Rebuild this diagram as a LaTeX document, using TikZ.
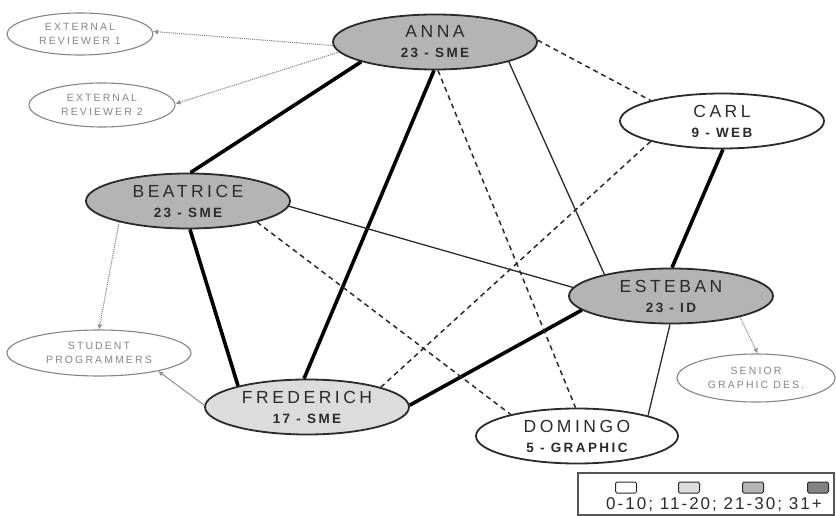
\documentclass[tikz,border=0pt]{standalone}
\usepackage{fontspec}
\setmainfont{Liberation Sans}
\newfontfamily\namefont[LetterSpace=20]{Liberation Sans}
\newfontfamily\rolefont[LetterSpace=18]{Liberation Sans}
\newfontfamily\helperfont[LetterSpace=20]{Liberation Sans}
\newfontfamily\keyfont[LetterSpace=12]{Liberation Sans}
\usetikzlibrary{shapes.geometric,arrows.meta}

\definecolor{lvlA}{HTML}{FFFFFF}
\definecolor{lvlB}{HTML}{DCDCDC}
\definecolor{lvlC}{HTML}{B4B4B4}
\definecolor{lvlD}{HTML}{828282}
\definecolor{inkdark}{HTML}{2A2A2A}
\definecolor{helpergray}{HTML}{858585}

\newcommand{\who}[2]{{\namefont\fontsize{17.5}{20}\selectfont #1}\\{\rolefont\bfseries\fontsize{13.5}{20}\selectfont #2}}

\tikzset{
  person/.style={ellipse, draw=inkdark, line width=1.8pt, inner sep=0pt,
    minimum width=204pt, minimum height=55pt, align=center, text=inkdark,
    font=\fontsize{17.5}{20}\selectfont},
  helper/.style={ellipse, draw=helpergray, line width=1.1pt, inner sep=0pt,
    align=center, text=helpergray,
    font=\helperfont\fontsize{10.5}{13.5}\selectfont},
  strong/.style={line width=3.6pt, draw=black},
  weak/.style={line width=1.3pt, draw=inkdark},
  loose/.style={line width=1.5pt, draw=inkdark, dash pattern=on 5pt off 4pt},
  refer/.style={line width=1.1pt, draw=helpergray, densely dotted,
    -{Latex[open,length=5pt,width=5pt]}},
  referline/.style={line width=0.9pt, draw=helpergray,
    -{Latex[open,length=5pt,width=5pt]}},
  swatch/.style={draw=inkdark, line width=1pt, rounded corners=1.5pt,
    minimum width=21pt, minimum height=11pt, inner sep=0pt}
}

\begin{document}
\begin{tikzpicture}[x=1pt,y=-1pt]
\useasboundingbox (0,0) rectangle (836,516);

% team members
\node[person, fill=lvlC] (anna)      at (435,42)  {\who{ANNA}{23 - SME}};
\node[person, fill=lvlA] (carl)      at (722,121) {\who{CARL}{9 - WEB}};
\node[person, fill=lvlC] (beatrice)  at (188,201) {\who{BEATRICE}{23 - SME}};
\node[person, fill=lvlC] (esteban)   at (671,296) {\who{ESTEBAN}{23 - ID}};
\node[person, fill=lvlB] (frederich) at (307,407) {\who{FREDERICH}{17 - SME}};
\node[person, fill=lvlA, minimum width=202pt] (domingo) at (577,436) {\who{DOMINGO}{5 - GRAPHIC}};

% outside contacts
\node[helper, minimum width=146pt, minimum height=42pt] (ext1) at (80,34)  {EXTERNAL\\REVIEWER 1};
\node[helper, minimum width=146pt, minimum height=44pt] (ext2) at (102,105) {EXTERNAL\\REVIEWER 2};
\node[helper, minimum width=184pt, minimum height=46pt] (students) at (99,353) {STUDENT\\PROGRAMMERS};
\node[helper, minimum width=158pt, minimum height=48pt] (senior) at (756,378) {SENIOR\\GRAPHIC DES.};

% strong ties
\draw[strong] (anna.195) -- (beatrice.85);
\draw[strong] (anna.268) -- (frederich.96);
\draw[strong] (beatrice.274) -- (frederich.163);
\draw[strong] (carl.272) -- (esteban.88);
\draw[strong] (esteban.189) -- (frederich.1);

% weak ties
\draw[weak] (anna.345) -- (esteban.162);
\draw[weak] (beatrice.357) -- (esteban.175);
\draw[weak] (esteban.268) -- (domingo.16);

% loose ties
\draw[loose] (anna.1) -- (carl.164);
\draw[loose] (anna.276) -- (domingo.93);
\draw[loose] (beatrice.343) -- (domingo.162);
\draw[loose] (carl.196) -- (frederich.15);

% referrals to outside contacts
\draw[refer] (anna.182) -- (ext1.2);
\draw[refer] (anna.186) -- (ext2.1);
\draw[refer] (beatrice.197) -- (students.90);
\draw[referline] (frederich.179) -- (students.343);
\draw[refer] (esteban.343) -- (senior.86);

% legend
\node[draw=inkdark!80, line width=1.4pt, minimum width=256pt, minimum height=42pt,
      inner sep=0pt] (legend) at (706,494) {};
\node[swatch, fill=lvlA] (sw1) at (626,487.5) {};
\node[swatch, fill=lvlB] (sw2) at (689,487.5) {};
\node[swatch, fill=lvlC] (sw3) at (753,487.5) {};
\node[swatch, fill=lvlD] (sw4) at (818,487.5) {};
\node[text=inkdark, font=\keyfont\fontsize{17}{18}\selectfont, inner sep=0pt] (scale) at (714,505)
  {0-10;\ 11-20;\ 21-30;\ 31+};
\end{tikzpicture}
\end{document}
